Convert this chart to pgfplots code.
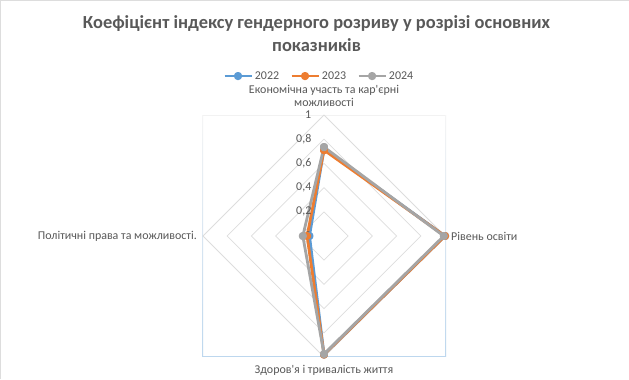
\documentclass[border=0pt]{standalone}
\usepackage{fontspec}
\setmainfont{Carlito}
\newfontfamily\carlplain{Carlito}
\usepackage{pgfplots}
\pgfplotsset{compat=1.18}
\usepgfplotslibrary{polar}
\definecolor{s22}{HTML}{5B9BD5}
\definecolor{s23}{HTML}{ED7D31}
\definecolor{s24}{HTML}{A5A5A5}
\definecolor{txt}{HTML}{595959}
\definecolor{grd}{HTML}{DDDDDD}
\definecolor{pab}{HTML}{BDD7EE}
\begin{document}
\begin{tikzpicture}[x=1bp,y=1bp]
\useasboundingbox (0,0) rectangle (629,379);
\fill[white] (0,0) rectangle (629,379);
\draw[grd, line width=1bp] (0.5,0) -- (0.5,378.5) -- (629,378.5);
% plot area frame
\draw[color=black!5, line width=0.8bp] (202.5,264) -- (445.5,264);
\shade[top color=black!4, bottom color=pab] (202,22.3) rectangle (203,264);
\shade[top color=black!4, bottom color=pab] (445,22.3) rectangle (446,264);
\draw[pab, line width=1bp] (202,22.3) -- (446,22.3);
\node[font=\bfseries\fontsize{18.5}{23}\selectfont, text=txt, align=center] at (316.5,345.5) {Коефіцієнт індексу гендерного розриву у розрізі основних\\показників};
\begin{polaraxis}[
  at={(324bp,143bp)}, anchor=center,
  scale only axis, width=242bp, height=242bp,
  ymin=0, ymax=1,
  hide axis, clip=false,
  legend columns=3,
  legend style={draw=none, fill=none, at={(0.48,1.161)}, anchor=center,
    font=\fontsize{12}{13}\selectfont, text=txt,
    /tikz/every even column/.append style={column sep=9bp}},
  legend image code/.code={\draw[mark repeat=2,mark phase=2] plot coordinates {(0bp,0bp)(13.5bp,0bp)(27bp,0bp)};},
]
\addplot[grd, line width=0.75bp, mark=none, forget plot] coordinates {(90,0.2)(0,0.2)(-90,0.2)(180,0.2)(90,0.2)};
\addplot[grd, line width=0.75bp, mark=none, forget plot] coordinates {(90,0.4)(0,0.4)(-90,0.4)(180,0.4)(90,0.4)};
\addplot[grd, line width=0.75bp, mark=none, forget plot] coordinates {(90,0.6)(0,0.6)(-90,0.6)(180,0.6)(90,0.6)};
\addplot[grd, line width=0.75bp, mark=none, forget plot] coordinates {(90,0.8)(0,0.8)(-90,0.8)(180,0.8)(90,0.8)};
\addplot[grd, line width=0.75bp, mark=none, forget plot] coordinates {(90,1)(0,1)(-90,1)(180,1)(90,1)};

\addplot[s22, line width=2.8bp, mark=*, mark size=2.7bp, line join=round] coordinates {(90,0.72)(0,1.0)(-90,0.98)(180,0.12)(90,0.72)};
\addlegendentry{2022}
\addplot[s23, line width=2.8bp, mark=*, mark size=2.7bp, line join=round] coordinates {(90,0.71)(0,1.0)(-90,0.98)(180,0.14)(90,0.71)};
\addlegendentry{2023}
\addplot[s24, line width=2.8bp, mark=*, mark size=2.7bp, line join=round] coordinates {(90,0.735)(0,0.99)(-90,0.975)(180,0.175)(90,0.735)};
\addlegendentry{2024}

\begin{scope}[every node/.style={font=\fontsize{12}{13}\selectfont, text=txt, inner sep=0pt}]
\node[anchor=east, xshift=-12.5bp] at (axis cs:90,0) {0};
\node[anchor=east, xshift=-12.5bp] at (axis cs:90,0.2) {0,2};
\node[anchor=east, xshift=-12.5bp] at (axis cs:90,0.4) {0,4};
\node[anchor=east, xshift=-12.5bp] at (axis cs:90,0.6) {0,6};
\node[anchor=east, xshift=-12.5bp] at (axis cs:90,0.8) {0,8};
\node[anchor=east, xshift=-12.5bp] at (axis cs:90,1) {1};
\node[anchor=south, align=center, yshift=8bp] at (axis cs:90,1) {\carlplain Економічна участь та кар'єрні\\\carlplain можливості};
\node[anchor=west, xshift=6bp] at (axis cs:0,1) {Рівень освіти};
\node[anchor=north, yshift=-8bp] at (axis cs:-90,1) {\carlplain Здоров'я і тривалість життя};
\node[anchor=east, xshift=-6bp] at (axis cs:180,1) {Політичні права та можливості.};
\end{scope}
\end{polaraxis}
\end{tikzpicture}
\end{document}
